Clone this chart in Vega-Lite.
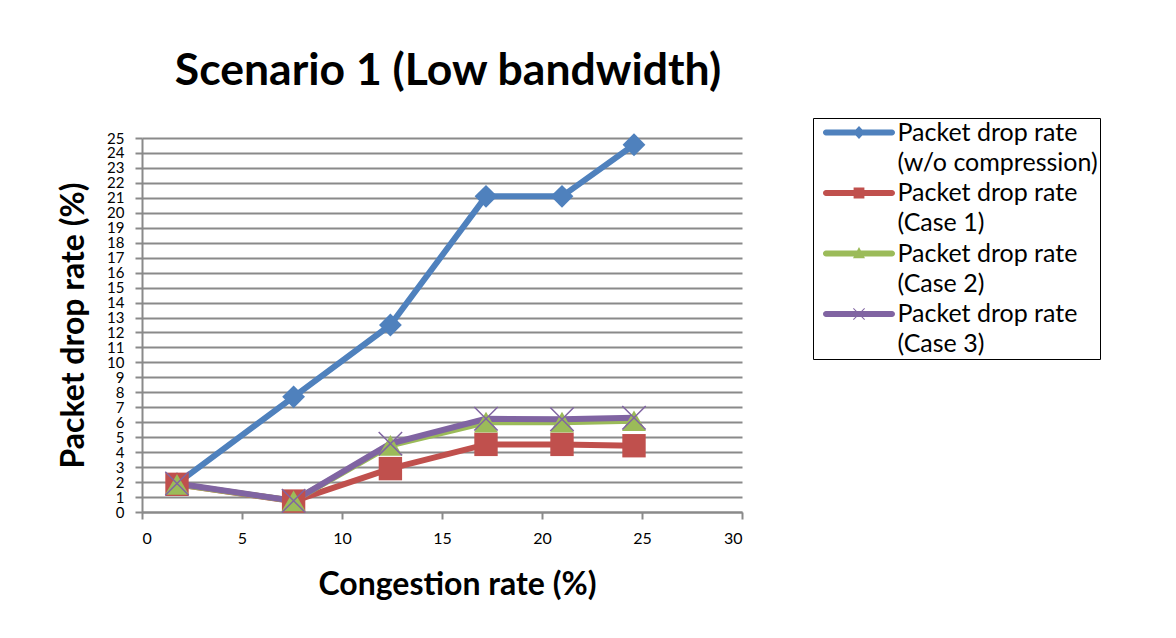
{
  "$schema": "https://vega.github.io/schema/vega-lite/v6.json",
  "width": 600,
  "height": 374,
  "autosize": {"type": "none"},
  "padding": {"left": 142, "top": 138, "right": 434, "bottom": 126},
  "background": "white",
  "title": {
    "text": "Scenario 1 (Low bandwidth)",
    "font": "Lato",
    "fontSize": 44.5,
    "fontWeight": "bold",
    "color": "#000000",
    "anchor": "middle",
    "frame": "group",
    "dx": 6,
    "offset": 23
  },
  "data": {
    "values": [
      {"series": "Packet drop rate (w/o compression)", "congestion": 1.75, "drop": 1.9},
      {"series": "Packet drop rate (w/o compression)", "congestion": 7.58, "drop": 7.7},
      {"series": "Packet drop rate (w/o compression)", "congestion": 12.42, "drop": 12.5},
      {"series": "Packet drop rate (w/o compression)", "congestion": 17.2, "drop": 21.1},
      {"series": "Packet drop rate (w/o compression)", "congestion": 21.0, "drop": 21.1},
      {"series": "Packet drop rate (w/o compression)", "congestion": 24.6, "drop": 24.55},
      {"series": "Packet drop rate (Case 1)", "congestion": 1.75, "drop": 1.85},
      {"series": "Packet drop rate (Case 1)", "congestion": 7.58, "drop": 0.73},
      {"series": "Packet drop rate (Case 1)", "congestion": 12.42, "drop": 2.9},
      {"series": "Packet drop rate (Case 1)", "congestion": 17.2, "drop": 4.52},
      {"series": "Packet drop rate (Case 1)", "congestion": 21.0, "drop": 4.52},
      {"series": "Packet drop rate (Case 1)", "congestion": 24.6, "drop": 4.43},
      {"series": "Packet drop rate (Case 2)", "congestion": 1.75, "drop": 1.85},
      {"series": "Packet drop rate (Case 2)", "congestion": 7.58, "drop": 0.75},
      {"series": "Packet drop rate (Case 2)", "congestion": 12.42, "drop": 4.45},
      {"series": "Packet drop rate (Case 2)", "congestion": 17.2, "drop": 6.0},
      {"series": "Packet drop rate (Case 2)", "congestion": 21.0, "drop": 6.0},
      {"series": "Packet drop rate (Case 2)", "congestion": 24.6, "drop": 6.1},
      {"series": "Packet drop rate (Case 3)", "congestion": 1.75, "drop": 1.9},
      {"series": "Packet drop rate (Case 3)", "congestion": 7.58, "drop": 0.75},
      {"series": "Packet drop rate (Case 3)", "congestion": 12.42, "drop": 4.57},
      {"series": "Packet drop rate (Case 3)", "congestion": 17.2, "drop": 6.23},
      {"series": "Packet drop rate (Case 3)", "congestion": 21.0, "drop": 6.2},
      {"series": "Packet drop rate (Case 3)", "congestion": 24.6, "drop": 6.3}
    ]
  },
  "encoding": {
    "x": {
      "field": "congestion",
      "type": "quantitative",
      "scale": {"domain": [0, 30], "nice": false, "zero": false},
      "axis": {
        "values": [0, 5, 10, 15, 20, 25, 30],
        "grid": false,
        "domainColor": "#8a8a8a",
        "domainWidth": 2,
        "tickColor": "#8a8a8a",
        "tickWidth": 2,
        "tickSize": 7,
        "labelFont": "Lato",
        "labelFontSize": 16,
        "labelColor": "#000000",
        "labelPadding": 11,
        "title": "Congestion rate (%)",
        "titleFont": "Lato",
        "titleFontSize": 32,
        "titleFontWeight": "bold",
        "titleColor": "#000000",
        "titlePadding": 23,
        "titleX": 315
      }
    },
    "y": {
      "field": "drop",
      "type": "quantitative",
      "scale": {"domain": [0, 25], "nice": false},
      "axis": {
        "values": [0, 1, 2, 3, 4, 5, 6, 7, 8, 9, 10, 11, 12, 13, 14, 15, 16, 17, 18, 19, 20, 21, 22, 23, 24, 25],
        "grid": true,
        "gridColor": "#8a8a8a",
        "gridWidth": 2,
        "domainColor": "#8a8a8a",
        "domainWidth": 2,
        "tickColor": "#8a8a8a",
        "tickWidth": 2,
        "tickSize": 7,
        "labelFont": "Lato",
        "labelFontSize": 15,
        "labelColor": "#000000",
        "labelPadding": 11,
        "labelOverlap": false,
        "labelBound": false,
        "title": "Packet drop rate (%)",
        "titleFont": "Lato",
        "titleFontSize": 32,
        "titleFontWeight": "bold",
        "titleColor": "#000000",
        "titlePadding": 16
      }
    }
  },
  "layer": [
    {
      "mark": {"type": "line", "strokeWidth": 6},
      "encoding": {
        "color": {
          "field": "series",
          "type": "nominal",
          "scale": {
            "domain": ["Packet drop rate (w/o compression)", "Packet drop rate (Case 1)", "Packet drop rate (Case 2)", "Packet drop rate (Case 3)"],
            "range": ["#4F81BD", "#C0504D", "#9BBB59", "#8064A2"]
          },
          "legend": null
        }
      }
    },
    {
      "mark": {"type": "point", "filled": true, "opacity": 1, "strokeWidth": 0},
      "encoding": {
        "color": {
          "field": "series",
          "type": "nominal",
          "scale": {
            "domain": ["Packet drop rate (w/o compression)", "Packet drop rate (Case 1)", "Packet drop rate (Case 2)", "Packet drop rate (Case 3)"],
            "range": ["#4F81BD", "#C0504D", "#9BBB59", "#8064A2"]
          },
          "legend": null
        },
        "shape": {
          "field": "series",
          "type": "nominal",
          "scale": {
            "domain": ["Packet drop rate (w/o compression)", "Packet drop rate (Case 1)", "Packet drop rate (Case 2)", "Packet drop rate (Case 3)"],
            "range": ["diamond", "square", "triangle-up", "M-0.915,-1L1,0.915L0.915,1L-1,-0.915Z M0.915,-1L1,-0.915L-0.915,1L-1,0.915Z"]
          },
          "legend": null
        },
        "size": {
          "field": "series",
          "type": "nominal",
          "scale": {
            "domain": ["Packet drop rate (w/o compression)", "Packet drop rate (Case 1)", "Packet drop rate (Case 2)", "Packet drop rate (Case 3)"],
            "range": [520, 600, 440, 560]
          },
          "legend": null
        }
      }
    },
    {
      "transform": [{"filter": "false"}],
      "mark": {"type": "point", "filled": true, "opacity": 1, "strokeWidth": 0},
      "encoding": {
        "fill": {
          "field": "series",
          "type": "nominal",
          "scale": {
            "domain": ["Packet drop rate (w/o compression)", "Packet drop rate (Case 1)", "Packet drop rate (Case 2)", "Packet drop rate (Case 3)"],
            "range": ["#4F81BD", "#C0504D", "#9BBB59", "#8064A2"]
          },
          "legend": {
            "orient": "none",
            "legendX": 671,
            "legendY": -20,
            "title": null,
            "strokeColor": "#000000",
            "padding": 2,
            "labelFont": "Lato",
            "labelFontSize": 25,
            "labelColor": "#000000",
            "labelLimit": 400,
            "labelOffset": 26,
            "symbolOffset": 31.5,
            "rowPadding": 4.5,
            "symbolSize": 576,
            "symbolStrokeWidth": 0,
            "symbolOpacity": 1,
            "labelExpr": "[slice(datum.label, 0, 16), slice(datum.label, 17)]"
          }
        },
        "shape": {
          "field": "series",
          "type": "nominal",
          "scale": {
            "domain": ["Packet drop rate (w/o compression)", "Packet drop rate (Case 1)", "Packet drop rate (Case 2)", "Packet drop rate (Case 3)"],
            "range": [
              "M-2.75,-0.25H2.75A0.25,0.25 0 0 1 2.75,0.25H-2.75A0.25,0.25 0 0 1 -2.75,-0.25Z M0,-0.55L0.5,0L0,0.55L-0.5,0Z",
              "M-2.75,-0.25H2.75A0.25,0.25 0 0 1 2.75,0.25H-2.75A0.25,0.25 0 0 1 -2.75,-0.25Z M-0.45,-0.45H0.45V0.45H-0.45Z",
              "M-2.75,-0.25H2.75A0.25,0.25 0 0 1 2.75,0.25H-2.75A0.25,0.25 0 0 1 -2.75,-0.25Z M0,-0.55L0.5,0.4H-0.5Z",
              "M-2.75,-0.25H2.75A0.25,0.25 0 0 1 2.75,0.25H-2.75A0.25,0.25 0 0 1 -2.75,-0.25Z M-0.44,-0.5L0.5,0.44L0.44,0.5L-0.5,-0.44Z M0.44,-0.5L0.5,-0.44L-0.44,0.5L-0.5,0.44Z"
            ]
          },
          "legend": {
            "orient": "none",
            "legendX": 671,
            "legendY": -20,
            "title": null,
            "strokeColor": "#000000",
            "padding": 2,
            "labelFont": "Lato",
            "labelFontSize": 25,
            "labelColor": "#000000",
            "labelLimit": 400,
            "labelOffset": 26,
            "symbolOffset": 31.5,
            "rowPadding": 4.5,
            "symbolSize": 576,
            "symbolStrokeWidth": 0,
            "symbolOpacity": 1,
            "labelExpr": "[slice(datum.label, 0, 16), slice(datum.label, 17)]"
          }
        }
      }
    }
  ],
  "resolve": {"scale": {"shape": "independent", "fill": "independent"}},
  "config": {
    "view": {"stroke": null},
    "font": "Lato",
    "style": {"guide-label": {"lineHeight": 30}}
  }
}
